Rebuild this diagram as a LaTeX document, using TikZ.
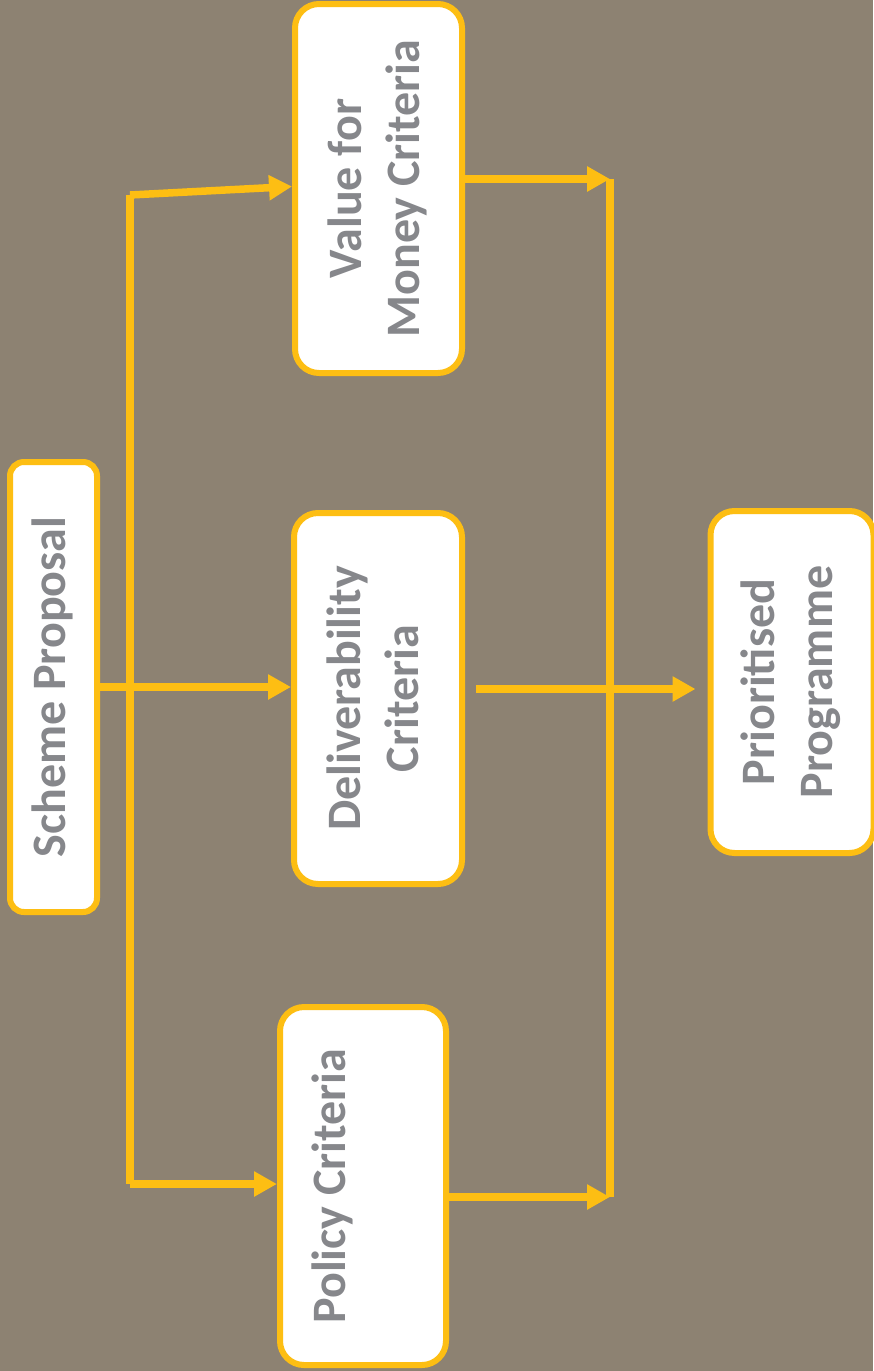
\documentclass[tikz,border=0pt]{standalone}
\usepackage{fontspec}
\setmainfont{Carlito}
\usetikzlibrary{arrows.meta}
\definecolor{bgc}{RGB}{141,130,114}
\definecolor{yel}{RGB}{253,190,19}
\definecolor{txt}{RGB}{134,135,139}
\newcommand{\rtext}[1]{\rotatebox{90}{\begin{tabular}{@{}c@{}}#1\end{tabular}}}
\tikzset{
  box/.style={draw=yel, line width=6pt, fill=white, rectangle, rounded corners=24pt,
    inner sep=0pt, text=txt, font=\fontsize{48}{58}\selectfont\bfseries},
  conn/.style={draw=yel, line width=7.5pt},
  arr/.style={conn, -{Triangle[length=23pt,width=24pt]}}
}
\begin{document}
\begin{tikzpicture}[x=1pt,y=-1pt]
\fill[bgc] (0,0) rectangle (873,1371);
\useasboundingbox (0,0) rectangle (873,1371);
% boxes
\node[box, rounded corners=14pt, minimum width=87pt, minimum height=450pt] (sp) at (53.5,687) {\rtext{Scheme Proposal}};
\node[box, minimum width=167pt, minimum height=369pt] (vfm) at (378.5,188.5) {\rtext{Value for\\Money Criteria}};
\node[box, minimum width=168pt, minimum height=371pt] (del) at (378,698.5) {\rtext{Deliverability\\Criteria}};
\node[box, minimum width=166pt, minimum height=358pt] (pol) at (363,1186) {\rtext{Policy Criteria\\{}}};
\node[box, minimum width=163pt, minimum height=342pt] (pr) at (792,682) {\rtext{Prioritised\\Programme}};
% junction coordinates
\coordinate (L1) at (130,195);
\coordinate (L2) at (130,1184);
\coordinate (R1) at (610,179);
\coordinate (R2) at (610,1197);
\coordinate (M) at (476,689);
% left distribution
\draw[conn] (L1) -- (L2);
\draw[arr] (L1) -- ([yshift=2pt]vfm.west);
\draw[arr] (sp.east) -- (del.west |- sp.east);
\draw[arr] (L2) -- (pol.west |- L2);
% right collection
\draw[conn] (R1) -- (R2);
\draw[arr] (vfm.east |- R1) -- (R1);
\draw[arr] (pol.east |- R2) -- (R2);
\draw[arr, shorten >=12pt] (M) -- (pr.west |- M);
\end{tikzpicture}
\end{document}
